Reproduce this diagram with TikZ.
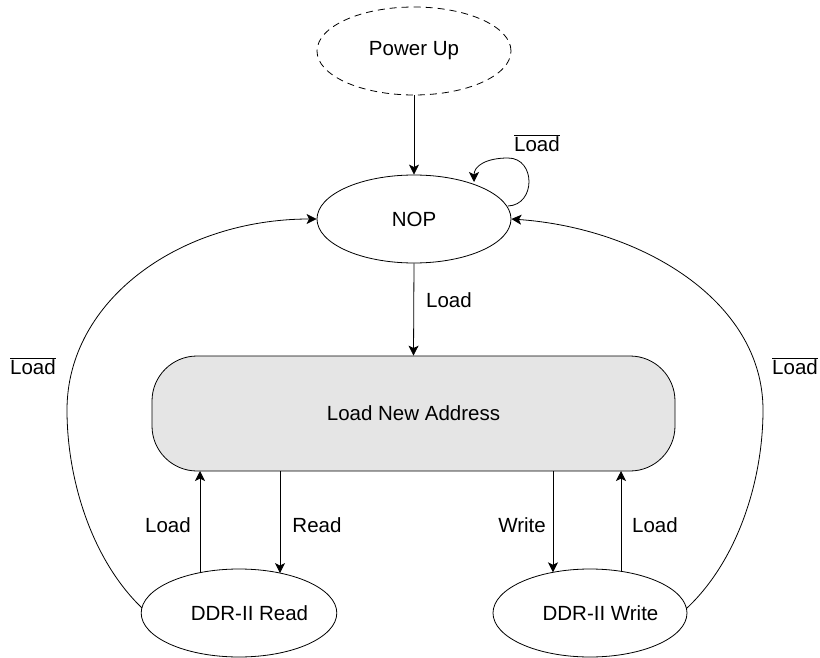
\documentclass[tikz,border=0pt]{standalone}
\usepackage{fontspec}
\setmainfont{Liberation Sans}
\usetikzlibrary{shapes.geometric,arrows.meta,calc}
\begin{document}
\begin{tikzpicture}[x=1pt,y=-1pt,
  every node/.style={font=\fontsize{20.5}{24}\selectfont},
  state/.style={ellipse,draw,line width=0.8pt,minimum width=194pt,minimum height=88pt,inner sep=0pt},
  conn/.style={line width=0.8pt,-{Stealth[length=10pt,width=10pt,inset=2.5pt]}},
  lbl/.style={inner sep=0pt}]
\useasboundingbox (0,0) rectangle (820,658);
\node[state,dashed,dash pattern=on 7pt off 5pt] (PU) at (414,51) {Power Up};
\node[state] (NOP) at (414,219) {NOP};
\node[draw,line width=0.8pt,fill=black!10,rounded corners=45pt,minimum width=523pt,minimum height=115pt,inner sep=0pt] (LNA) at (413.5,413.5) {Load New Address};
\node[state] (DR) at (239,613) {\hspace*{21pt}DDR-II Read};
\node[state] (DW) at (590,613) {\hspace*{21pt}DDR-II Write};
% labels
\node[lbl] (l1) at (537,143) {$\overline{\hbox{Load}}$};
\node[lbl] (l2) at (449,300) {Load};
\node[lbl] (l3) at (33,366) {$\overline{\hbox{Load}}$};
\node[lbl] (l4) at (795,366) {$\overline{\hbox{Load}}$};
\node[lbl] (l5) at (168,525) {Load};
\node[lbl] (l6) at (317,525) {Read};
\node[lbl] (l7) at (522,525) {Write};
\node[lbl] (l8) at (655,525) {Load};
% connectors
\draw[conn] (PU.south) -- (NOP.north);
\draw[conn] (NOP.south) -- (LNA.north);
\coordinate (s1) at ($(NOP.center)+(94,-13)$);
\coordinate (e1) at ($(NOP.center)+(60,-37)$);
\draw[conn] (s1) .. controls (536,205) and (536,158) .. (508,158) .. controls (486,158) and (474,166) .. (e1);
% bottom arrows
\coordinate (b1) at (200,471);
\coordinate (b2) at (280,471);
\coordinate (b3) at (553,471);
\coordinate (b4) at (621,471);
\draw[conn] ($(DR.center)+(-39,-40.3)$) -- (b1);
\draw[conn] (b2) -- ($(DR.center)+(41,-39.9)$);
\draw[conn] (b3) -- ($(DW.center)+(-37,-40.7)$);
\draw[conn] ($(DW.center)+(31,-41.7)$) -- (b4);
% big arcs
\coordinate (m1) at (67,410);
\coordinate (m2) at (763,410);
\draw[conn] ($(DR.center)+(-97,-5)$) .. controls (92,560) and (67,480) .. (m1) .. controls (67,300) and (180,219) .. (NOP.west);
\draw[conn] ($(DW.center)+(97,-5)$) .. controls (738,560) and (763,480) .. (m2) .. controls (763,300) and (640,228) .. (NOP.east);
\end{tikzpicture}
\end{document}
